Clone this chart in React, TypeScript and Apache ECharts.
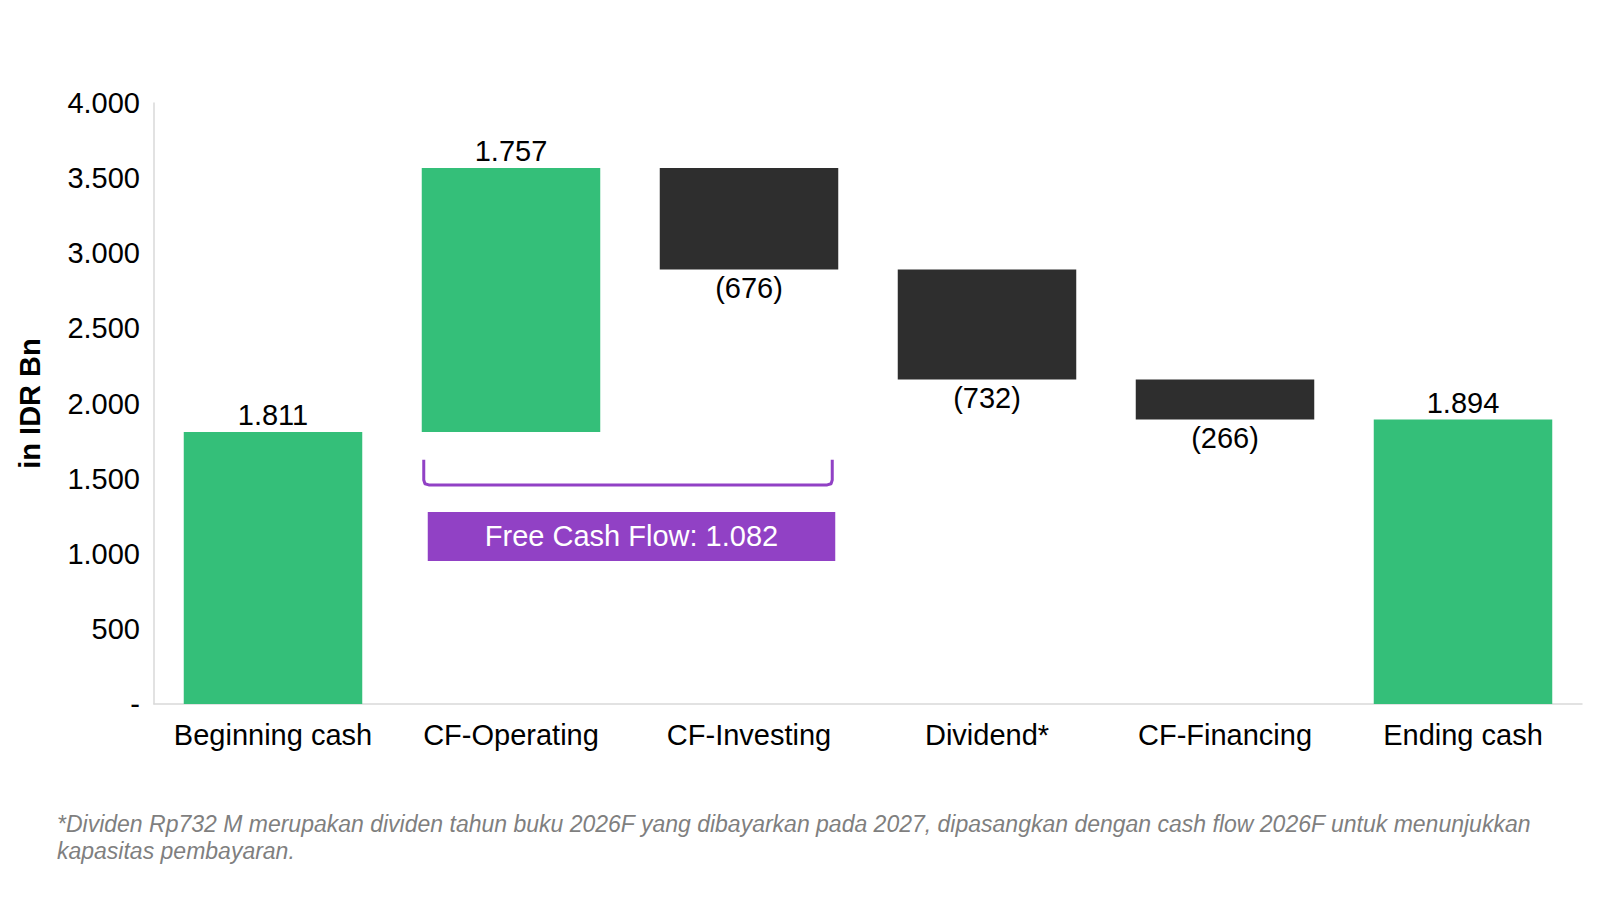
import React, { useEffect, useRef } from "react";
import * as echarts from "echarts";

const categories = ["Beginning cash", "CF-Operating", "CF-Investing", "Dividend*", "CF-Financing", "Ending cash"];
const changes = [1811, 1757, -676, -732, -266, 1894];
const isTotal = [true, false, false, false, false, true];
const yTicks = [0, 500, 1000, 1500, 2000, 2500, 3000, 3500, 4000];
const fcfLabel = "Free Cash Flow: 1.082";
const footnoteLines = [
  "*Dividen Rp732 M merupakan dividen tahun buku 2026F yang dibayarkan pada 2027, dipasangkan dengan cash flow 2026F untuk menunjukkan",
  "kapasitas pembayaran.",
];
const yAxisTitle = "in IDR Bn";

const GREEN = "#34BF79";
const DARK = "#2E2E2E";
const PURPLE = "#9141C5";
const FONT = "'Liberation Sans', Arial, Helvetica, sans-serif";

// annotation placement in axis units
const BRACKET_TOP = 1625;
const BRACKET_BOTTOM = 1458;
const BOX_TOP = 1278;
const BOX_BOTTOM = 952;

function fmt(v: number): string {
  if (v === 0) return "-";
  const s = Math.abs(Math.round(v)).toString().replace(/\B(?=(\d{3})+(?!\d))/g, ".");
  return v < 0 ? "(" + s + ")" : s;
}

export default function App() {
  const ref = useRef<HTMLDivElement>(null);
  useEffect(() => {
    if (!ref.current) return;
    const chart = echarts.init(ref.current, undefined, { renderer: "svg" });

    const base: number[] = [];
    const height: number[] = [];
    let running = 0;
    changes.forEach((c, i) => {
      if (isTotal[i]) {
        base.push(0);
        height.push(c);
        running = c;
      } else if (c >= 0) {
        base.push(running);
        height.push(c);
        running += c;
      } else {
        running += c;
        base.push(running);
        height.push(-c);
      }
    });

    const barData = height.map((h, i) => ({
      value: h,
      itemStyle: { color: changes[i] >= 0 ? GREEN : DARK },
      label: {
        show: true,
        position: changes[i] >= 0 ? "top" : "bottom",
        distance: changes[i] >= 0 ? 2 : 4,
        formatter: () => fmt(changes[i]),
      },
    }));

    chart.setOption({
      animation: false,
      grid: { left: 154, right: 15, top: 103, bottom: 212, containLabel: false },
      xAxis: {
        type: "category",
        data: categories,
        axisLine: { show: true, lineStyle: { color: "#D9D9D9", width: 1.5 } },
        axisTick: { show: false },
        axisLabel: { color: "#000", fontSize: 29, fontFamily: FONT, margin: 16, interval: 0 },
      },
      yAxis: {
        type: "value",
        min: yTicks[0],
        max: yTicks[yTicks.length - 1],
        interval: yTicks[1] - yTicks[0],
        axisLine: { show: true, lineStyle: { color: "#D9D9D9", width: 1.5 } },
        axisTick: { show: false },
        splitLine: { show: false },
        axisLabel: { color: "#000", fontSize: 29, fontFamily: FONT, margin: 14, formatter: (v: number) => fmt(v) },
        name: yAxisTitle,
        nameLocation: "middle",
        nameGap: 110,
        nameTextStyle: { color: "#000", fontSize: 29, fontWeight: "bold", fontFamily: FONT },
      },
      series: [
        {
          type: "bar",
          stack: "wf",
          data: base,
          itemStyle: { color: "transparent" },
          silent: true,
          barCategoryGap: "25%",
        },
        {
          type: "bar",
          stack: "wf",
          data: barData,
          barCategoryGap: "25%",
          label: { color: "#000", fontSize: 29, fontFamily: FONT },
        },
      ],
    });

    const c1 = chart.convertToPixel({ gridIndex: 0 }, [categories[1], 0]) as number[];
    const c2 = chart.convertToPixel({ gridIndex: 0 }, [categories[2], 0]) as number[];
    const band = c2[0] - c1[0];
    const halfBar = band * 0.375;
    const x1 = c1[0] - halfBar + 2;
    const x2 = c2[0] + halfBar - 6;
    const yT = (chart.convertToPixel({ gridIndex: 0 }, [categories[0], BRACKET_TOP]) as number[])[1];
    const yB = (chart.convertToPixel({ gridIndex: 0 }, [categories[0], BRACKET_BOTTOM]) as number[])[1];
    const bT = (chart.convertToPixel({ gridIndex: 0 }, [categories[0], BOX_TOP]) as number[])[1];
    const bB = (chart.convertToPixel({ gridIndex: 0 }, [categories[0], BOX_BOTTOM]) as number[])[1];
    const r = 5;
    const bx1 = x1 + 4;
    const bx2 = x2 + 3;

    chart.setOption({
      graphic: [
        {
          type: "polyline",
          shape: {
            points: [
              [x1, yT],
              [x1, yB - r],
              [x1 + 1.2, yB - 1.2],
              [x1 + r, yB],
              [x2 - r, yB],
              [x2 - 1.2, yB - 1.2],
              [x2, yB - r],
              [x2, yT],
            ],
          },
          style: { stroke: PURPLE, lineWidth: 3, fill: null, lineJoin: "round" },
        },
        {
          type: "rect",
          shape: { x: bx1, y: bT, width: bx2 - bx1, height: bB - bT },
          style: { fill: PURPLE },
        },
        {
          type: "text",
          x: (bx1 + bx2) / 2,
          y: (bT + bB) / 2,
          style: {
            text: fcfLabel,
            fill: "#fff",
            fontSize: 29,
            fontFamily: FONT,
            align: "center",
            verticalAlign: "middle",
          },
        },
        {
          type: "text",
          left: 57,
          top: 810,
          style: {
            text: footnoteLines.join("\n"),
            fill: "#7F7F7F",
            fontSize: 23,
            fontStyle: "italic",
            fontFamily: FONT,
            lineHeight: 27,
          },
        },
      ],
    });

    return () => chart.dispose();
  }, []);

  return <div ref={ref} style={{ position: "absolute", left: 0, top: 0, width: 1597, height: 916 }} />;
}
